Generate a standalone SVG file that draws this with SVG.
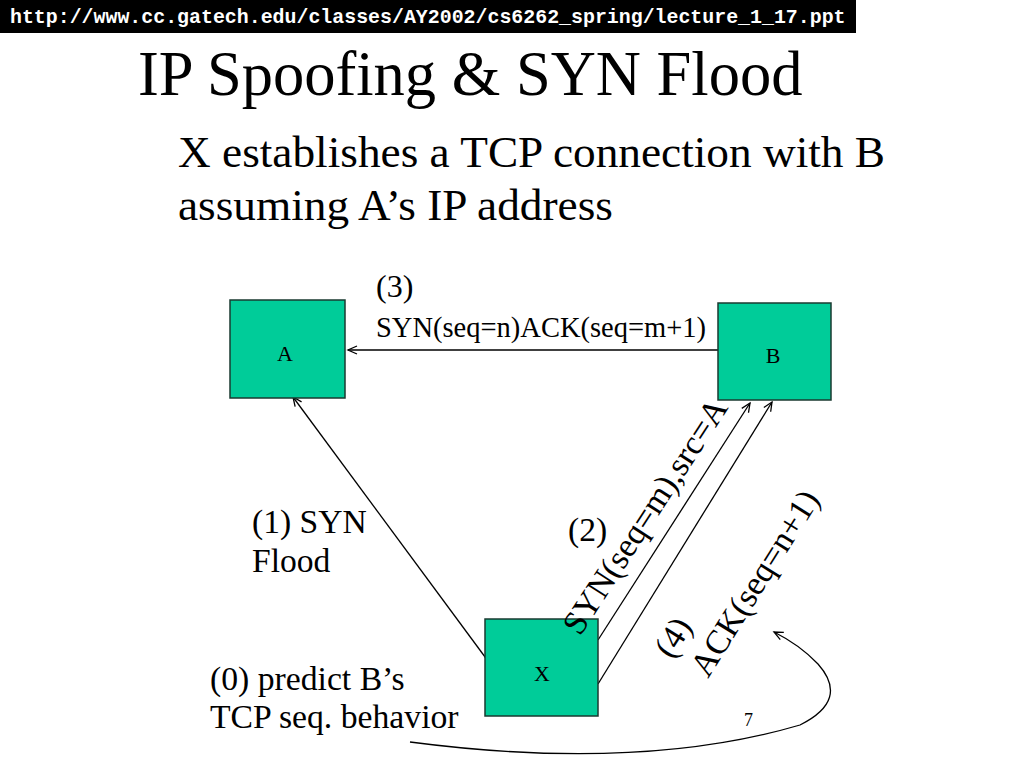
<svg xmlns="http://www.w3.org/2000/svg" width="1024" height="768" viewBox="0 0 1024 768">
<defs>
<style>
.t{font-family:"Liberation Serif","Times New Roman",serif;fill:#000}
.box{fill:#00CC99;stroke:#1a3a30;stroke-width:1.5}
.ln{stroke:#000;stroke-width:1.3;fill:none}
</style>
<marker id="ah" markerWidth="12" markerHeight="10" refX="10" refY="5" orient="auto" markerUnits="userSpaceOnUse">
<path d="M1,1 L10,5 L1,9" fill="none" stroke="#000" stroke-width="1.3"/>
</marker>
</defs>
<rect width="1024" height="768" fill="#fff"/>
<g id="header">
<rect x="0" y="0" width="856" height="33" fill="#000"/>
<text x="10" y="23" font-family="Liberation Mono,Courier New,monospace" font-weight="bold" font-size="19.9" fill="#fff">http://www.cc.gatech.edu/classes/AY2002/cs6262_spring/lecture_1_17.ppt</text>
</g>
<g id="title">
<text class="t" x="138" y="95" font-size="62.5">IP Spoofing &amp; SYN Flood</text>
<text class="t" x="178" y="167" font-size="45.3">X establishes a TCP connection with B</text>
<text class="t" x="178" y="220" font-size="45.3">assuming A’s IP address</text>
</g>
<g id="connectors">
<line class="ln" x1="718" y1="350" x2="348" y2="350" marker-end="url(#ah)"/>
<line class="ln" x1="488" y1="661" x2="293" y2="397" marker-end="url(#ah)"/>
<line class="ln" x1="598" y1="640" x2="750" y2="403" marker-end="url(#ah)"/>
<line class="ln" x1="598" y1="684" x2="772" y2="402" marker-end="url(#ah)"/>
<path class="ln" d="M410,742 Q640,772 800,725 Q850,700 818,664 Q800,645 774,632" marker-end="url(#ah)"/>
</g>
<g id="node-A">
<rect class="box" x="230" y="300" width="115" height="98"/>
<text class="t" x="285" y="361" font-size="22" text-anchor="middle">A</text>
</g>
<g id="node-B">
<rect class="box" x="718" y="303" width="113" height="97"/>
<text class="t" x="773" y="363" font-size="22" text-anchor="middle">B</text>
</g>
<g id="node-X">
<rect class="box" x="485" y="619" width="113" height="97"/>
<text class="t" x="542" y="681" font-size="22" text-anchor="middle">X</text>
</g>
<g id="labels">
<text class="t" x="376" y="297" font-size="32">(3)</text>
<text class="t" x="376" y="337" font-size="28.5">SYN(seq=n)ACK(seq=m+1)</text>
<text class="t" x="252" y="533" font-size="33.6">(1) SYN</text>
<text class="t" x="252" y="572" font-size="33.6">Flood</text>
<text class="t" x="568" y="541" font-size="33.6">(2)</text>
<text class="t" font-size="34" transform="translate(580,637) rotate(-57)">SYN(seq=m),src=A</text>
<text class="t" font-size="34" transform="translate(672,660) rotate(-58)">(4)</text>
<text class="t" font-size="34" transform="translate(708,679) rotate(-58)">ACK(seq=n+1)</text>
<text class="t" x="210" y="690" font-size="33.7">(0) predict B’s</text>
<text class="t" x="210" y="728" font-size="33.7">TCP seq. behavior</text>
<text class="t" x="744" y="726" font-size="18">7</text>
</g>
</svg>
